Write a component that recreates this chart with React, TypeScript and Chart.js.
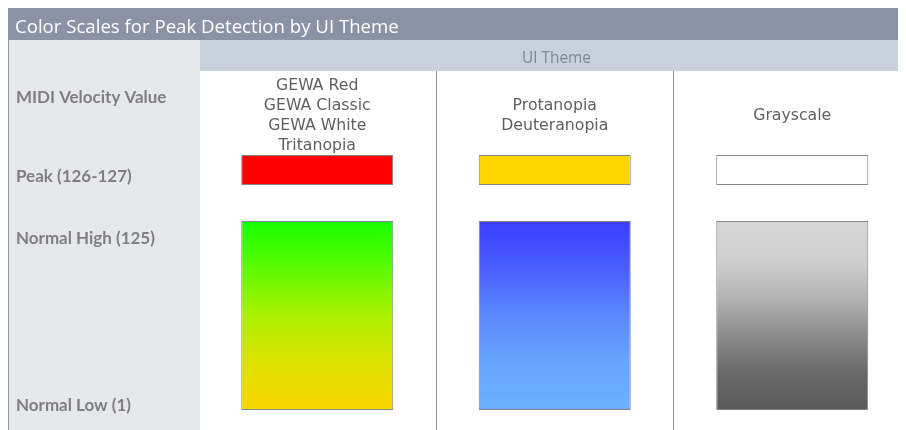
import React, { useEffect, useRef } from "react";
import { Chart, registerables } from "chart.js";

Chart.register(...registerables);

// ---- data ----
const CHART_TITLE = "Color Scales for Peak Detection by UI Theme";
const COLUMN_GROUP_TITLE = "UI Theme";
const ROW_GROUP_TITLE = "MIDI Velocity Value";
const THEME_KEYS = ["GEWA", "Protanopia/Deuteranopia", "Grayscale"];
const THEME_LABELS = [
  ["GEWA Red", "GEWA Classic", "GEWA White", "Tritanopia"],
  ["Protanopia", "Deuteranopia"],
  ["Grayscale"],
];
const ROW_LABELS = ["Peak (126-127)", "Normal High (125)", "Normal Low (1)"];
const PEAK_VALUES: [number, number][] = [
  [126, 127],
  [126, 127],
  [126, 127],
];
const NORMAL_VALUES: [number, number][] = [
  [1, 125],
  [1, 125],
  [1, 125],
];

// ---- styles ----
const PEAK_COLORS = ["#FF0000", "#FFD700", "#FFFFFF"];
const NORMAL_GRADIENTS: [number, string][][] = [
  [
    [0, "#18FF00"],
    [0.25, "#5CFA00"],
    [0.5, "#ACF000"],
    [0.75, "#DDE200"],
    [1, "#FCD600"],
  ],
  [
    [0, "#3A3CFF"],
    [0.25, "#4A5EFF"],
    [0.5, "#5C88FF"],
    [0.75, "#68A5FF"],
    [1, "#6EB0FF"],
  ],
  [
    [0, "#D6D6D6"],
    [0.2, "#D0D0D0"],
    [0.4, "#B5B5B5"],
    [0.6, "#8C8C8C"],
    [0.8, "#6A6A6A"],
    [1, "#5A5A5A"],
  ],
];
const TITLE_BAR = "#8A93A6";
const BAND = "#C8D1DC";
const LEFT_COL = "#E7E8EC";
const SEPARATOR = "#8E97A8";
const SWATCH_BORDER = "#7F868E";

const W = 906;
const H = 422;

function fitFont(
  ctx: CanvasRenderingContext2D,
  text: string,
  weight: string,
  family: string,
  target: number
) {
  ctx.font = `${weight} 100px ${family}`;
  const w = ctx.measureText(text).width;
  const size = (100 * target) / w;
  return `${weight} ${size.toFixed(2)}px ${family}`;
}

const decorPlugin = {
  id: "decor",
  beforeDraw(chart: any) {
    const ctx: CanvasRenderingContext2D = chart.ctx;
    ctx.save();
    // title bar
    ctx.fillStyle = TITLE_BAR;
    ctx.fillRect(0, 0, W, 32);
    // left column
    ctx.fillStyle = LEFT_COL;
    ctx.fillRect(0, 32, 192, H - 32);
    ctx.fillStyle = TITLE_BAR;
    ctx.fillRect(0, 32, 1, H - 32);
    // header band
    ctx.fillStyle = BAND;
    ctx.fillRect(192, 32, W - 192, 31);
    ctx.restore();
  },
  afterDraw(chart: any) {
    const ctx: CanvasRenderingContext2D = chart.ctx;
    const x = chart.scales.x;
    ctx.save();
    ctx.textBaseline = "alphabetic";

    // title
    ctx.fillStyle = "#FFFFFF";
    ctx.textAlign = "left";
    ctx.font = fitFont(ctx, CHART_TITLE, "normal", "'Open Sans'", 384);
    ctx.fillText(CHART_TITLE, 7, 25);

    // column group title
    ctx.fillStyle = "#7F8896";
    ctx.textAlign = "center";
    ctx.font = fitFont(ctx, COLUMN_GROUP_TITLE, "normal", "'Open Sans'", 69);
    ctx.fillText(COLUMN_GROUP_TITLE, 548.5, 55.3);

    // row labels
    ctx.fillStyle = "#7F7F7F";
    ctx.textAlign = "left";
    ctx.font = fitFont(ctx, ROW_GROUP_TITLE, "bold", "Lato", 150.5);
    ctx.fillText(ROW_GROUP_TITLE, 8, 95.3);
    const rowBaselines = [173.7, 236.3, 403];
    ROW_LABELS.forEach((t, i) => ctx.fillText(t, 8, rowBaselines[i]));

    // theme labels
    ctx.fillStyle = "#5F5F5F";
    ctx.textAlign = "center";
    ctx.font = fitFont(ctx, "GEWA Classic", "normal", "'DejaVu Sans'", 107);
    const lh = 20;
    THEME_LABELS.forEach((lines, i) => {
      const cx = x.getPixelForValue(i);
      const start = 112 - ((lines.length - 1) * lh) / 2;
      lines.forEach((t, j) => ctx.fillText(t, cx, start + j * lh));
    });
    ctx.restore();
  },
};

export default function App() {
  const ref = useRef<HTMLCanvasElement>(null);
  useEffect(() => {
    if (!ref.current) return;
    const normalBg = (c: any) => {
      const chart = c.chart;
      const y = chart.scales.yNormal;
      if (!chart.chartArea || !y) return NORMAL_GRADIENTS[c.dataIndex][0][1];
      const g = chart.ctx.createLinearGradient(
        0,
        y.getPixelForValue(NORMAL_VALUES[c.dataIndex][1]),
        0,
        y.getPixelForValue(NORMAL_VALUES[c.dataIndex][0])
      );
      NORMAL_GRADIENTS[c.dataIndex].forEach(([o, col]) => g.addColorStop(o, col));
      return g;
    };
    const chart = new Chart(ref.current, {
      type: "bar",
      data: {
        labels: THEME_KEYS,
        datasets: [
          {
            label: "Peak",
            data: PEAK_VALUES as any,
            yAxisID: "yPeak",
            backgroundColor: PEAK_COLORS,
            borderColor: SWATCH_BORDER,
            borderWidth: 1,
            borderSkipped: false,
            barPercentage: 0.64,
            categoryPercentage: 1,
            grouped: false,
          } as any,
          {
            label: "Normal",
            data: NORMAL_VALUES as any,
            yAxisID: "yNormal",
            backgroundColor: normalBg,
            borderColor: SWATCH_BORDER,
            borderWidth: 1,
            borderSkipped: false,
            barPercentage: 0.64,
            categoryPercentage: 1,
            grouped: false,
          } as any,
        ],
      },
      options: {
        animation: false,
        responsive: false,
        devicePixelRatio: 1,
        layout: { padding: { left: 190.5, right: 3, top: 63, bottom: 0 } },
        plugins: {
          legend: { display: false },
          title: { display: false },
          tooltip: { enabled: false },
        },
        scales: {
          x: {
            type: "category",
            offset: true,
            grid: {
              offset: true,
              drawTicks: false,
              lineWidth: 1,
              color: (c: any) =>
                c.index === 1 || c.index === 2 ? SEPARATOR : "rgba(0,0,0,0)",
            },
            ticks: { display: false },
            border: { display: false },
          },
          // left-positioned stacked axes are laid out bottom-up
          yNormal: {
            type: "linear",
            position: "left",
            stack: "rows",
            stackWeight: 227,
            min: -12.12,
            max: 136.81,
            display: false,
          },
          yPeak: {
            type: "linear",
            position: "left",
            stack: "rows",
            stackWeight: 132,
            min: 125.4,
            max: 129.8,
            display: false,
          },
        } as any,
      },
      plugins: [decorPlugin],
    });
    return () => chart.destroy();
  }, []);
  return (
    <div style={{ width: 898, height: H, overflow: "hidden" }}>
      <canvas ref={ref} width={W} height={H} style={{ display: "block" }} />
    </div>
  );
}
